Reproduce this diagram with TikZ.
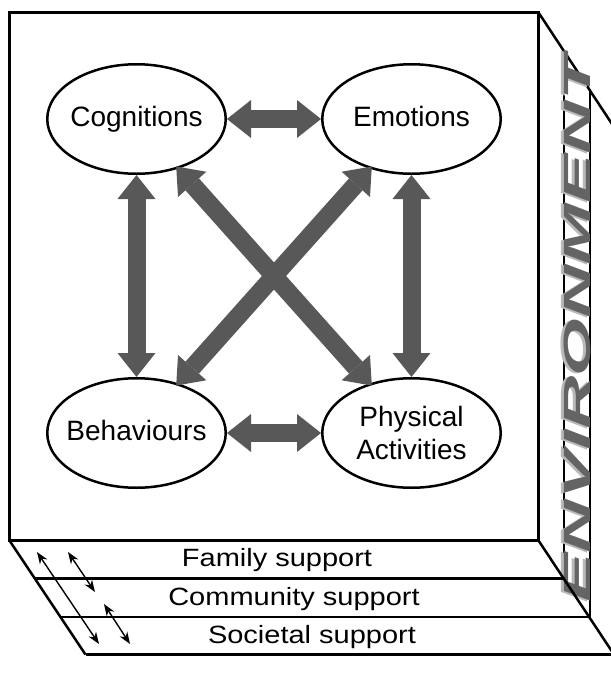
\documentclass[tikz,border=0pt]{standalone}
\usepackage{fontspec}
\usepackage{graphicx}
\setmainfont{Liberation Sans}
\usetikzlibrary{arrows.meta,shapes.geometric,calc}
\definecolor{arrowgray}{RGB}{88,88,88}
\definecolor{envgray}{RGB}{100,100,100}
\definecolor{envlight}{RGB}{185,185,185}
\begin{document}
\begin{tikzpicture}[x=1pt,y=-1pt,
  bubble/.style={ellipse, draw=black, fill=white, line width=2.5pt,
    minimum width=178.5pt, minimum height=109.5pt,
    inner xsep=-12pt, inner ysep=0pt,
    font=\fontsize{28}{32.5}\selectfont, align=center},
  oneline/.style={text height=20pt, text depth=6pt},
  bigarrow/.style={draw=arrowgray, line width=18pt,
    {Triangle[length=24pt,width=38pt,line width=0pt]}-{Triangle[length=24pt,width=38pt,line width=0pt]}},
  thinarrow/.style={draw=black, line width=1.4pt,
    {Stealth[length=12pt,width=9pt,line width=0pt]}-{Stealth[length=12pt,width=9pt,line width=0pt]}},
  slabtext/.style={anchor=base, inner sep=0pt, font=\fontsize{25}{30}\selectfont},
  envtext/.style={rotate=90, inner sep=0pt,
    font=\fontsize{38}{38}\selectfont\bfseries\itshape},
  facebox/.style={draw=black, line width=3pt},
  edge3d/.style={draw=black, line width=2.5pt},
  layerline/.style={draw=black, line width=2.2pt},
  inner3d/.style={draw=black, line width=2pt}
]
\useasboundingbox (0,0) rectangle (611,673);
\fill[white] (0,0) rectangle (611,673);
\clip (0,0) rectangle (611,673);

% right face
\draw[edge3d] (538.5,12.5) -- (614,127);
\draw[inner3d] (564,50.8) -- (564,578.5);
\draw[inner3d] (589.5,89.1) -- (589.5,617);

% ENVIRONMENT text
\node[envtext, text=envlight] (envs) at (574,330)
  {\scalebox{1.95}[1]{ENVIRONMENT}};
\node[envtext, text=envgray] (env) at (577,329)
  {\scalebox{1.95}[1]{ENVIRONMENT}};

% bottom slab
\draw[edge3d] (9.5,540.5) -- (85.5,654.5);
\draw[edge3d] (538.5,540.5) -- (614,654.5);
\draw[layerline] (34.8,578.5) -- (564,578.5);
\draw[layerline] (60.5,617) -- (589.5,617);
\draw[edge3d] (85.5,654.5) -- (615,654.5);

% front face
\draw[facebox] (9.5,12.5) rectangle (538.5,540.5);

% slab texts
\node[slabtext] (fam) at (277,566.7) {\scalebox{1.16}[1]{Family support}};
\node[slabtext] (com) at (294,605) {\scalebox{1.16}[1]{Community support}};
\node[slabtext] (soc) at (312,643.3) {\scalebox{1.16}[1]{Societal support}};

% small arrows
\coordinate (a1s) at (37,552);
\coordinate (a1e) at (99,644);
\coordinate (a2s) at (68,552);
\coordinate (a2e) at (95,592);
\coordinate (a3s) at (104,604);
\coordinate (a3e) at (130,644);
\draw[thinarrow] (a1s) -- (a1e);
\draw[thinarrow] (a2s) -- (a2e);
\draw[thinarrow] (a3s) -- (a3e);

% bubbles
\node[bubble, oneline] (cog) at (136.5,119) {Cognitions};
\node[bubble, oneline] (emo) at (411.5,119) {Emotions};
\node[bubble, oneline] (beh) at (136.5,433) {Behaviours};
\node[bubble] (phys) at (411.5,433) {Physical\\Activities};

% big arrows
\draw[bigarrow] (cog.east) -- (emo.west);
\draw[bigarrow] (beh.east) -- (phys.west);
\draw[bigarrow] (cog.south) -- (beh.north);
\draw[bigarrow] (emo.south) -- (phys.north);
\draw[bigarrow, shorten <=-3pt, shorten >=-3pt] (cog.-50) -- (phys.130);
\draw[bigarrow, shorten <=-3pt, shorten >=-3pt] (emo.-130) -- (beh.50);
\end{tikzpicture}
\end{document}
